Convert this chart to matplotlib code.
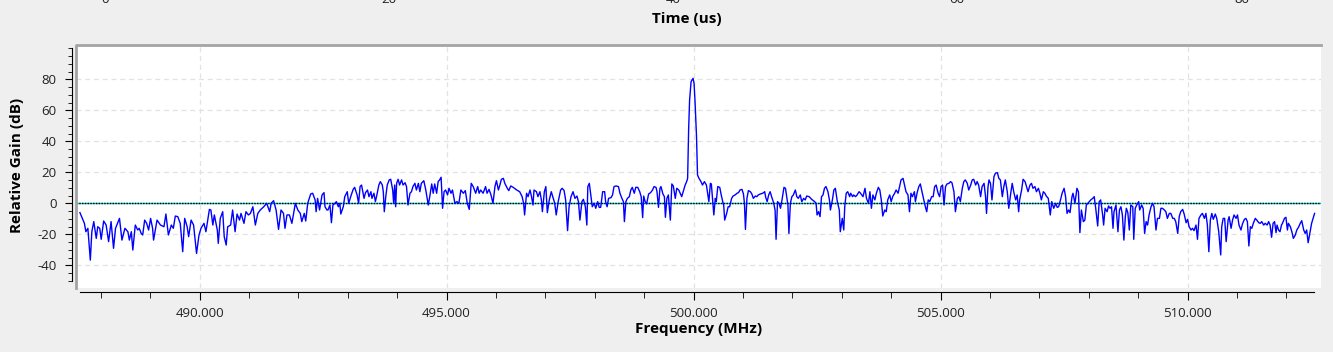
"""Spectrum capture: relative gain vs frequency around a 500 MHz carrier."""

import numpy as np
import matplotlib.pyplot as plt
from matplotlib.ticker import FixedLocator, FormatStrFormatter
from matplotlib.transforms import blended_transform_factory

plt.rcParams['font.family'] = ['Open Sans', 'DejaVu Sans']
plt.rcParams['axes.unicode_minus'] = False

# (frequency MHz, relative gain dB) in five bands
band_1 = [
    (487.58, -6.0), (487.67, -12.9), (487.70, -18.3), (487.74, -16.1), (487.79, -36.6),
    (487.82, -18.3), (487.86, -11.8), (487.91, -22.6), (487.94, -15.1), (487.98, -16.1),
    (488.01, -23.2), (488.06, -11.4), (488.11, -14.0), (488.16, -24.7), (488.21, -11.8),
    (488.26, -29.0), (488.30, -16.1), (488.38, -9.7), (488.43, -23.7), (488.49, -16.1),
    (488.55, -18.3), (488.58, -23.7), (488.62, -18.3), (488.65, -30.1), (488.70, -14.0),
    (488.75, -17.2), (488.78, -16.1), (488.82, -19.4), (488.85, -20.4), (488.89, -10.8),
    (488.93, -12.9), (488.97, -17.2), (489.01, -9.7), (489.05, -16.1), (489.07, -23.7),
    (489.14, -10.8), (489.21, -14.0), (489.28, -15.1), (489.32, -6.9), (489.37, -20.4),
    (489.43, -14.0), (489.47, -16.1), (489.51, -8.2), (489.56, -8.6), (489.61, -12.9),
    (489.66, -31.2), (489.70, -9.7), (489.75, -15.1), (489.78, -21.5), (489.83, -10.8),
    (489.88, -14.0), (489.94, -32.3), (489.99, -20.4), (490.03, -16.1), (490.09, -12.9),
    (490.13, -18.3), (490.20, -3.9), (490.23, -4.3), (490.27, -14.0), (490.30, -7.5),
    (490.36, -17.2), (490.38, -25.8), (490.42, -9.7), (490.47, -5.4), (490.50, -21.5),
    (490.54, -26.9), (490.57, -15.1), (490.63, -14.0), (490.67, -4.3), (490.72, -18.3),
    (490.76, -6.9), (490.81, -10.8), (490.84, -6.5), (490.90, -12.9), (490.94, -5.4),
    (490.99, -7.5), (491.03, -6.5), (491.08, -2.2), (491.13, -14.0), (491.18, -6.5),
    (491.23, -4.3), (491.30, -2.2), (491.36, 0.0), (491.42, -5.4), (491.45, 0.0),
    (491.50, 1.7), (491.55, -4.3), (491.60, -16.8), (491.65, -4.3), (491.70, -6.5),
    (491.73, -16.1), (491.77, -7.5), (491.82, -7.5), (491.87, -12.9), (491.94, 0.0),
    (491.99, -4.3), (492.04, -6.5), (492.07, -11.8), (492.12, -6.5), (492.15, -11.4),
    (492.19, 0.0), (492.25, 6.0), (492.29, 6.5), (492.34, 2.2), (492.36, -5.4),
    (492.39, 3.2), (492.43, -4.3), (492.48, 5.4), (492.52, 6.9), (492.54, -2.2),
    (492.58, -4.3),
]

band_2 = [
    (492.60, -4.3), (492.64, -1.1), (492.67, -12.5), (492.70, -1.1), (492.74, 0.0),
    (492.77, 1.1), (492.81, -2.2), (492.84, 0.0), (492.86, -6.9), (492.91, -2.2),
    (492.94, 4.3), (492.99, 7.5), (493.02, 0.0), (493.06, 4.3), (493.11, 9.0),
    (493.14, 10.3), (493.19, 5.4), (493.22, 0.0), (493.25, 10.8), (493.28, 11.8),
    (493.31, 6.5), (493.33, 3.2), (493.36, 6.9), (493.40, 8.6), (493.43, 4.3),
    (493.47, 7.5), (493.49, 3.2), (493.53, 6.5), (493.56, 1.1), (493.59, 5.4),
    (493.63, 11.8), (493.66, 14.0), (493.70, 11.8), (493.72, 7.5), (493.74, -5.4),
    (493.77, 4.3), (493.80, 11.8), (493.84, 15.1), (493.87, 15.5), (493.91, 8.6),
    (493.93, 0.0), (493.95, 11.8), (493.97, -2.2), (493.99, 12.9), (494.02, 15.5),
    (494.05, 11.8), (494.09, 15.1), (494.12, 11.8), (494.16, 13.3), (494.19, 10.8),
    (494.22, -1.1), (494.26, 6.5), (494.29, 7.5), (494.32, 10.8), (494.36, 12.9),
    (494.39, 8.6), (494.43, 12.9), (494.46, 7.5), (494.49, 12.9), (494.54, 14.6),
    (494.58, 8.6), (494.63, -1.1), (494.66, 4.3), (494.70, 12.5), (494.73, 6.5),
    (494.76, 12.5), (494.80, 6.5), (494.83, 14.0), (494.86, 15.1), (494.89, 16.8),
    (494.92, -3.2), (494.95, 7.5), (494.98, 8.6), (495.02, 5.4), (495.05, 9.7),
    (495.09, 6.5), (495.12, 8.6), (495.17, 0.0), (495.21, 1.1), (495.25, 0.0),
    (495.29, 8.6), (495.34, 6.5), (495.38, 8.2), (495.42, 0.0), (495.46, -3.9),
    (495.50, 12.9), (495.54, 10.8), (495.59, 6.5), (495.63, 10.8), (495.66, 6.5),
    (495.69, 8.6), (495.74, 6.5), (495.79, 10.8), (495.82, 6.5), (495.86, 9.0),
    (495.90, 5.4), (495.94, 0.0), (495.98, 10.8), (496.01, 14.6), (496.05, 8.6),
    (496.08, 11.8), (496.11, 15.5), (496.15, 16.1), (496.18, 12.9), (496.23, 9.7),
    (496.26, 8.2), (496.30, 11.2), (496.35, 10.3), (496.42, 8.6), (496.48, 7.5),
    (496.53, 4.3), (496.56, 0.0), (496.58, -7.5), (496.62, 6.5), (496.65, 4.3),
    (496.69, 8.6), (496.72, 4.3), (496.75, -1.1), (496.77, 8.6), (496.82, 7.5),
    (496.85, 4.3), (496.89, 7.5), (496.92, 2.2), (496.94, -5.4), (496.98, 7.5),
    (497.01, 10.8), (497.04, -6.0), (497.08, 2.2), (497.12, 7.5), (497.16, 3.2),
    (497.19, 0.0), (497.22, -7.5), (497.26, 1.1), (497.31, 8.6), (497.34, 9.7),
    (497.38, 8.2), (497.41, 2.2), (497.45, -17.6), (497.48, -2.2), (497.52, 4.3),
    (497.56, 7.5),
]

band_3 = [
    (497.60, 3.2), (497.64, 4.7), (497.67, 1.1), (497.70, -10.8), (497.74, 1.1),
    (497.77, 2.6), (497.81, -2.2), (497.84, -14.0), (497.86, 10.8), (497.89, 12.9),
    (497.92, 5.4), (497.95, -2.2), (497.99, 0.0), (498.02, -3.2), (498.06, 1.1),
    (498.09, -2.6), (498.12, -2.6), (498.16, 7.5), (498.20, 7.5), (498.22, 1.1),
    (498.25, -2.2), (498.28, 3.2), (498.33, 3.7), (498.36, 5.4), (498.39, 10.8),
    (498.43, 11.2), (498.48, 10.8), (498.51, 6.5), (498.55, 3.2), (498.58, 1.1),
    (498.60, -11.8), (498.63, 1.1), (498.66, 3.2), (498.70, 4.3), (498.73, 8.6),
    (498.76, 10.3), (498.80, 6.5), (498.83, 10.3), (498.87, 10.3), (498.91, 7.5),
    (498.94, 4.3), (498.97, -9.2), (498.99, 4.7), (499.02, 1.1), (499.05, -0.4),
    (499.09, 6.0), (499.13, 6.9), (499.17, 8.6), (499.20, 10.8), (499.24, 10.3),
    (499.26, 7.5), (499.29, -2.6), (499.32, 9.7), (499.34, 10.8), (499.38, 6.0),
    (499.41, 4.3), (499.43, -9.0), (499.46, 3.2), (499.49, 5.4), (499.53, -10.8),
    (499.56, 12.5), (499.59, 11.2), (499.63, 3.2), (499.66, 9.7), (499.70, 8.6),
    (499.73, 6.5), (499.76, 4.3), (499.80, 8.6), (499.83, 11.8), (499.86, 14.0),
    (499.88, 16.1), (499.90, 47.3), (499.92, 66.7), (499.95, 78.5), (499.99, 80.6),
    (500.01, 77.4), (500.03, 65.6), (500.06, 43.0), (500.08, 18.3), (500.11, 16.1),
    (500.15, 14.0), (500.18, 11.8), (500.22, 14.0), (500.26, 11.8), (500.29, 5.4),
    (500.31, 1.1), (500.34, 12.9), (500.36, 12.5), (500.38, 4.3), (500.41, -7.5),
    (500.44, 3.2), (500.46, 1.1), (500.49, 10.8), (500.53, 10.3), (500.56, 5.4),
    (500.59, 1.1), (500.61, -1.1), (500.63, -10.8), (500.67, -6.5), (500.70, -2.2),
    (500.73, -2.2), (500.77, 3.2), (500.80, 4.7), (500.84, 5.4), (500.88, 6.5),
    (500.91, 6.9), (500.94, 8.6), (500.98, 9.0), (501.01, 6.0), (501.03, 0.0),
    (501.05, -16.8), (501.08, 3.2), (501.11, 8.2), (501.15, 7.5), (501.18, 6.0),
    (501.21, 3.2), (501.25, 4.7), (501.28, 4.3), (501.31, 5.4), (501.35, 6.0),
    (501.40, 6.5), (501.44, 7.5), (501.46, 3.9), (501.49, 1.1), (501.52, 5.4),
    (501.55, 7.5), (501.58, 4.3), (501.62, 0.4), (501.65, -4.3), (501.67, -23.2),
    (501.70, 1.1), (501.73, 0.0), (501.76, -3.2), (501.79, 2.2), (501.83, 10.3),
    (501.86, 9.7), (501.89, 3.2), (501.91, -1.1), (501.93, -19.4), (501.96, 0.0),
    (501.99, 4.3), (502.02, 5.4), (502.06, 8.6), (502.09, 4.3), (502.12, 3.2),
    (502.16, 5.4), (502.19, 1.1), (502.23, 3.2), (502.26, 2.2), (502.29, 4.7),
    (502.34, 4.3), (502.39, 2.6), (502.45, 1.1), (502.48, 0.0), (502.50, -7.5),
    (502.53, -5.4), (502.56, -8.6),
]

band_4 = [
    (502.59, 4.3), (502.62, 5.4), (502.65, 9.7), (502.68, 10.8), (502.72, 7.5),
    (502.75, 2.2), (502.77, -4.3), (502.81, 2.2), (502.84, 8.6), (502.87, 9.7),
    (502.91, 1.1), (502.95, -4.3), (502.97, -18.3), (503.01, -9.7), (503.04, -17.2),
    (503.06, -2.2), (503.09, 6.5), (503.12, 7.5), (503.16, 4.3), (503.18, 6.5),
    (503.22, 4.3), (503.24, 5.4), (503.28, 4.3), (503.31, 5.4), (503.35, 7.5),
    (503.38, 6.5), (503.43, 4.3), (503.47, 9.7), (503.50, 3.2), (503.54, 0.0),
    (503.57, 7.5), (503.60, -3.2), (503.63, 5.4), (503.67, 2.2), (503.70, 6.5),
    (503.74, 10.3), (503.77, 8.6), (503.80, 2.2), (503.83, -8.2), (503.87, -4.3),
    (503.90, -5.4), (503.93, 2.2), (503.97, 5.4), (504.00, 1.1), (504.03, 4.3),
    (504.07, 6.5), (504.10, 8.6), (504.14, 6.5), (504.17, 10.8), (504.20, 15.1),
    (504.24, 16.1), (504.27, 11.8), (504.30, 7.5), (504.34, 5.4), (504.37, -5.4),
    (504.40, 6.5), (504.43, 4.3), (504.47, 7.5), (504.49, 1.1), (504.53, 7.5),
    (504.56, 10.8), (504.59, 12.5), (504.63, 6.5), (504.66, 2.2), (504.70, -3.2),
    (504.72, -5.4), (504.75, 2.2), (504.78, 1.1), (504.82, 4.3), (504.85, 4.3),
    (504.88, 10.8), (504.91, 11.8), (504.95, 6.5), (504.98, 4.3), (505.01, 10.8),
    (505.04, 11.8), (505.07, -1.1), (505.10, 10.8), (505.13, 12.5), (505.17, 12.9),
    (505.20, 14.0), (505.23, 13.3), (505.27, 7.5), (505.30, -5.4), (505.34, 3.2),
    (505.37, 4.3), (505.40, 1.1), (505.44, 9.7), (505.47, 14.0), (505.50, 15.1),
    (505.54, 12.9), (505.57, 8.6), (505.61, 11.8), (505.64, 15.1), (505.67, 15.5),
    (505.71, 11.8), (505.74, 14.0), (505.77, 11.8), (505.81, 4.3), (505.84, 10.8),
    (505.88, 12.9), (505.91, 4.3), (505.93, -6.5), (505.96, 10.8), (505.98, 15.1),
    (506.01, 12.9), (506.04, 2.2), (506.08, 17.2), (506.11, 19.4), (506.15, 19.8),
    (506.18, 16.1), (506.21, 15.1), (506.25, 4.3), (506.28, 10.8), (506.31, 15.1),
    (506.35, 7.5), (506.38, -3.2), (506.42, 6.5), (506.45, 12.9), (506.48, 7.5),
    (506.52, 2.2), (506.55, 5.4), (506.58, -5.4), (506.60, 2.2), (506.64, 8.6),
    (506.67, 15.5), (506.71, 14.0), (506.74, 10.8), (506.77, 7.5), (506.81, 11.8),
    (506.84, 12.9), (506.87, 9.7), (506.91, 10.8), (506.94, 7.5), (506.98, 9.7),
    (507.01, 6.5), (507.04, 2.2), (507.08, 7.5), (507.11, 6.5), (507.14, 4.7),
    (507.18, 3.2), (507.22, -7.5), (507.25, 1.1), (507.29, -3.2), (507.33, 0.0),
    (507.36, -2.6), (507.39, -2.2), (507.43, 2.6), (507.46, 6.5), (507.50, 9.7),
    (507.53, 4.3), (507.56, -6.5),
]

band_5 = [
    (507.59, -4.3), (507.62, -6.0), (507.66, 4.3), (507.68, 6.5), (507.72, 0.0),
    (507.76, 9.7), (507.79, 7.5), (507.82, -18.9), (507.85, -4.3), (507.89, -11.8),
    (507.92, -10.8), (507.95, -1.1), (507.99, 0.4), (508.04, 2.2), (508.08, 3.2),
    (508.11, 4.3), (508.14, -3.2), (508.18, -14.6), (508.21, 1.1), (508.24, 2.2),
    (508.28, -7.5), (508.30, -14.0), (508.33, -3.2), (508.37, -5.4), (508.40, -1.7),
    (508.43, -3.2), (508.46, -2.2), (508.49, -16.1), (508.51, -5.4), (508.55, -1.1),
    (508.59, -18.3), (508.62, -4.3), (508.65, -2.2), (508.68, -7.5), (508.71, -23.7),
    (508.74, -8.6), (508.76, -3.2), (508.79, -6.0), (508.82, -17.2), (508.85, -1.1),
    (508.89, -2.2), (508.91, -23.2), (508.94, -3.2), (508.97, -1.1), (509.01, 1.1),
    (509.03, -4.3), (509.07, -1.1), (509.10, -3.2), (509.13, -19.4), (509.16, -11.8),
    (509.19, -14.0), (509.22, -7.5), (509.26, -2.2), (509.29, 0.0), (509.32, -2.2),
    (509.36, -17.2), (509.39, -9.7), (509.43, -9.7), (509.46, -3.2), (509.49, -3.2),
    (509.53, -4.3), (509.56, -5.4), (509.59, -9.7), (509.63, -6.5), (509.66, -6.5),
    (509.70, -9.7), (509.73, -9.7), (509.76, -11.8), (509.80, -19.4), (509.83, -8.6),
    (509.86, -5.4), (509.90, -3.9), (509.93, -6.9), (509.97, -12.5), (510.00, -10.3),
    (510.03, -15.1), (510.07, -17.2), (510.10, -16.1), (510.13, -17.6), (510.17, -14.0),
    (510.20, -23.2), (510.23, -9.7), (510.27, -7.5), (510.30, -6.5), (510.34, -9.7),
    (510.37, -6.5), (510.40, -14.0), (510.43, -31.2), (510.46, -10.8), (510.49, -6.5),
    (510.52, -10.3), (510.56, -6.9), (510.59, -9.7), (510.63, -18.3), (510.67, -33.3),
    (510.69, -15.1), (510.72, -9.7), (510.75, -9.7), (510.78, -24.7), (510.82, -10.8),
    (510.84, -8.6), (510.88, -16.1), (510.91, -10.8), (510.94, -7.5), (510.98, -9.7),
    (511.01, -7.5), (511.04, -14.0), (511.08, -17.2), (511.11, -13.3), (511.15, -10.3),
    (511.18, -9.7), (511.21, -11.8), (511.24, -27.5), (511.27, -15.1), (511.30, -16.1),
    (511.33, -12.9), (511.37, -9.7), (511.40, -10.8), (511.44, -12.5), (511.47, -12.9),
    (511.50, -11.8), (511.54, -14.0), (511.57, -12.9), (511.61, -14.0), (511.64, -11.8),
    (511.67, -14.0), (511.70, -21.9), (511.73, -12.9), (511.76, -11.8), (511.79, -18.9),
    (511.81, -14.0), (511.84, -17.2), (511.87, -18.3), (511.90, -14.0), (511.92, -12.9),
    (511.96, -9.7), (511.99, -9.0), (512.02, -17.2), (512.04, -12.9), (512.08, -15.1),
    (512.11, -18.3), (512.14, -22.6), (512.18, -20.4), (512.21, -17.2), (512.25, -15.1),
    (512.28, -12.9), (512.31, -11.2), (512.35, -17.2), (512.38, -19.4), (512.41, -17.2),
    (512.44, -25.4), (512.48, -18.3), (512.51, -12.9), (512.54, -9.7), (512.57, -6.5),
]

freq_ticks = [490, 495, 500, 505, 510]
gain_ticks = [-40, -20, 0, 20, 40, 60, 80]
time_ticks = [0, 20, 40, 60, 80]

spectrum = np.array(band_1 + band_2 + band_3 + band_4 + band_5)
freq, gain = spectrum[:, 0], spectrum[:, 1]

W, H = 1333, 352
bg = '#efefef'
fig = plt.figure(figsize=(W / 100, H / 100), dpi=100, facecolor=bg)
ax = fig.add_axes([76 / W, 1 - 288 / H, (1321 - 76) / W, (288 - 45) / H])
ax.set_facecolor('white')

ax.plot(freq, gain, color='#0000ff', lw=1.0, zorder=3)
ax.axhline(0, color='#00c8c8', lw=1.0, zorder=2)
ax.axhline(0, color='black', lw=1.0, ls=(0, (1, 1)), zorder=2)

ax.set_xlim(487.5, 512.7)
ax.set_ylim(-54.6, 102.1)

# qwt-style scales sitting just outside the canvas
for side in ['top', 'right']:
    ax.spines[side].set_visible(False)
ax.spines['bottom'].set_position(('outward', 3))
ax.spines['bottom'].set_bounds(487.58, 512.56)
ax.spines['left'].set_position(('outward', 3))
ax.spines['left'].set_bounds(-50, 100)

ax.xaxis.set_major_locator(FixedLocator(freq_ticks))
ax.xaxis.set_minor_locator(FixedLocator(np.arange(488, 513, 1)))
ax.xaxis.set_major_formatter(FormatStrFormatter('%.3f'))
ax.yaxis.set_major_locator(FixedLocator(gain_ticks))
ax.yaxis.set_minor_locator(FixedLocator(np.arange(-50, 101, 5)))

ax.tick_params(axis='x', which='major', length=6, pad=5, labelsize=9.5, labelcolor='#222222')
ax.tick_params(axis='x', which='minor', length=4)
ax.tick_params(axis='y', which='major', length=5, pad=6, labelsize=9.5, labelcolor='#222222')
ax.tick_params(axis='y', which='minor', length=3)

ax.grid(True, which='major', color='#e2e2e2', lw=0.9, ls=(0, (4, 3)), zorder=1)

# sunken canvas frame
ax.plot([0, 0, 1], [0, 1, 1], transform=ax.transAxes, color='#a4a4a4', lw=2,
        clip_on=False, zorder=4)

ax.set_xlabel('Frequency (MHz)', fontsize=11, fontweight='bold')
ax.xaxis.label.set_va('center')
ax.xaxis.set_label_coords(0.5, -(329 - 288) / 243)
ax.set_ylabel('Relative Gain (dB)', fontsize=11, fontweight='bold')
ax.yaxis.label.set_va('center')
ax.yaxis.set_label_coords((17 - 76) / 1245, (288 - 165) / 243)

# time plot above, mostly scrolled out of view
tax = fig.add_axes([105 / W, 1.0, 1136.4 / W, 0.01])
tax.set_xlim(0, 80)
tax.axis('off')
trans = blended_transform_factory(tax.transData, fig.transFigure)
for t in time_ticks:
    fig.text(t, 1 - 3 / H, str(t), transform=trans, ha='center', va='baseline',
             fontsize=9.5, color='#222222')
fig.text(687 / W, 1 - 18.7 / H, 'Time (us)', ha='center', va='center',
         fontsize=11, fontweight='bold')

fig.savefig('out.png', dpi=100, facecolor=bg)
